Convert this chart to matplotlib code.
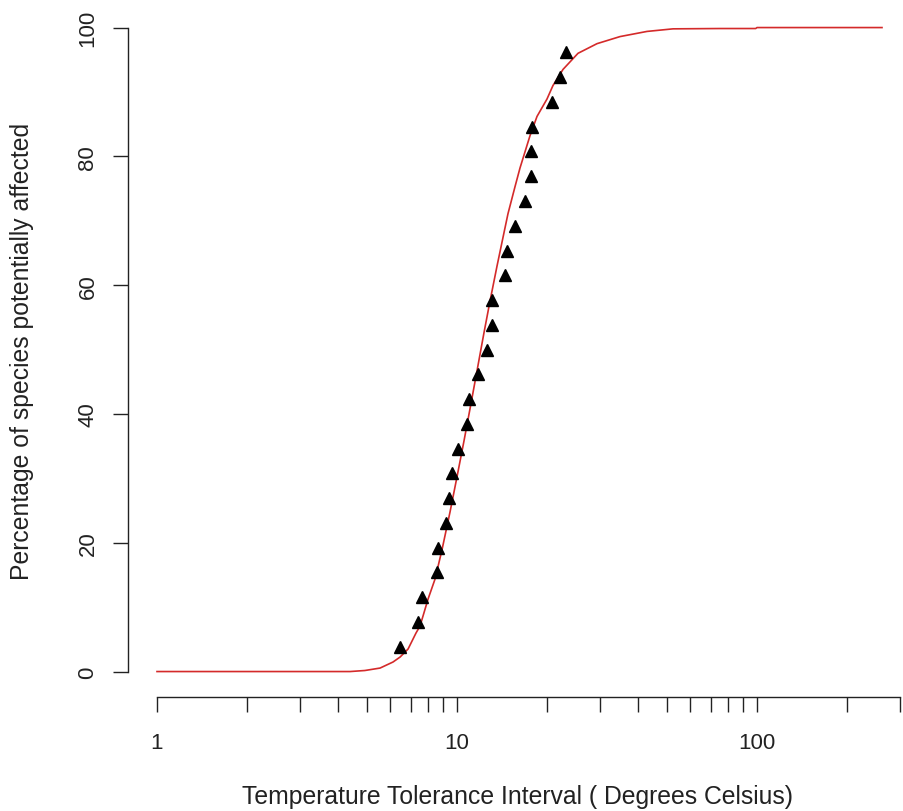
import numpy as np
import matplotlib
matplotlib.use('Agg')
import matplotlib.pyplot as plt

plt.rcParams['font.family'] = ['Liberation Sans', 'DejaVu Sans']

# observed points: tolerance interval (deg C) and cumulative percentage
obs_x = [6.46, 7.41, 7.64, 8.58, 8.64, 9.19, 9.40, 9.62, 10.07, 10.80, 10.96, 11.75,
         12.59, 13.08, 13.08, 14.45, 14.68, 15.60, 16.86, 17.65, 17.65, 17.78,
         20.73, 22.04, 23.08]
obs_y = [3.85, 7.69, 11.54, 15.38, 19.23, 23.08, 26.92, 30.77, 34.62, 38.46, 42.31,
         46.15, 50.00, 53.85, 57.69, 61.54, 65.38, 69.23, 73.08, 76.92, 80.77, 84.62,
         88.46, 92.31, 96.15]

# fitted curve
fit_x = [1.0, 4.40, 4.93, 5.54, 6.12, 6.46, 6.87, 7.30, 7.53, 8.01, 8.45, 8.91, 9.48,
         10.0, 10.55, 11.05, 11.66, 12.30, 12.88, 13.60, 14.13, 14.79, 15.61, 16.22,
         17.51, 18.48, 19.95, 20.89, 22.56, 25.31, 29.29, 34.95, 42.99, 52.48, 75.28,
         99.0, 100.0, 261.0]
fit_y = [0.0, 0.0, 0.16, 0.54, 1.48, 2.25, 3.50, 5.98, 7.07, 11.27, 14.37, 18.88, 24.79,
         30.23, 35.8, 40.8, 46.7, 52.6, 57.5, 63.0, 66.7, 71.1, 75.3, 78.2,
         83.2, 86.2, 88.9, 91.0, 93.5, 96.0, 97.5, 98.6, 99.4, 99.8, 99.85,
         99.85, 100.0, 100.0]

x_ticks = [1, 2, 3, 4, 5, 6, 7, 8, 9, 10, 20, 30, 40, 50, 60, 70, 80, 90, 100, 200, 300]
x_labels = ['1' if t == 1 else '10' if t == 10 else '100' if t == 100 else '' for t in x_ticks]
y_ticks = [0, 20, 40, 60, 80, 100]

W, H = 904, 812
fig = plt.figure(figsize=(W / 100, H / 100), dpi=100)
fig.patch.set_facecolor('white')

# plot region in pixels (R style, 4% padding)
left_px, right_px, top_px, bot_px = 128, 904, 2.8, 698.3
ax = fig.add_axes([left_px / W, 1 - bot_px / H, (right_px - left_px) / W, (bot_px - top_px) / H])

ax.plot(fit_x, fit_y, color='#d42a2a', linewidth=1.2, zorder=2)
ax.plot(obs_x, obs_y, linestyle='none', marker='^', color='black', markersize=8, zorder=3)

ax.set_xscale('log')
ax.set_xlim(10 ** ((left_px - 157) / 300), 10 ** ((right_px - 157) / 300))
ax.set_ylim(-4, 104)

ax.set_xticks(x_ticks)
ax.set_xticklabels(x_labels)
ax.xaxis.set_minor_locator(matplotlib.ticker.NullLocator())
ax.set_yticks(y_ticks)
ax.set_yticklabels([str(v) for v in y_ticks], rotation=90, va='center')

for s in ['top', 'right']:
    ax.spines[s].set_visible(False)
ax.spines['left'].set_bounds(0, 100)
ax.spines['bottom'].set_bounds(1, 300)
for s in ['left', 'bottom']:
    ax.spines[s].set_linewidth(1.0)
    ax.spines[s].set_color('#222222')

ax.tick_params(axis='both', direction='out', length=10.8, width=1.0, color='#222222',
               labelsize=16, labelcolor='#222222')
ax.tick_params(axis='x', pad=14.5)
ax.tick_params(axis='y', pad=10.5)

fig.text(517 / W, 1 - 797 / H, 'Temperature Tolerance Interval ( Degrees Celsius)',
         ha='center', va='center', fontsize=17.8, color='#222222')
fig.text(22 / W, 1 - 351.5 / H, 'Percentage of species potentially affected',
         ha='center', va='center', rotation=90, fontsize=17.8, color='#222222')

fig.savefig('out.png', dpi=100, facecolor='white')
